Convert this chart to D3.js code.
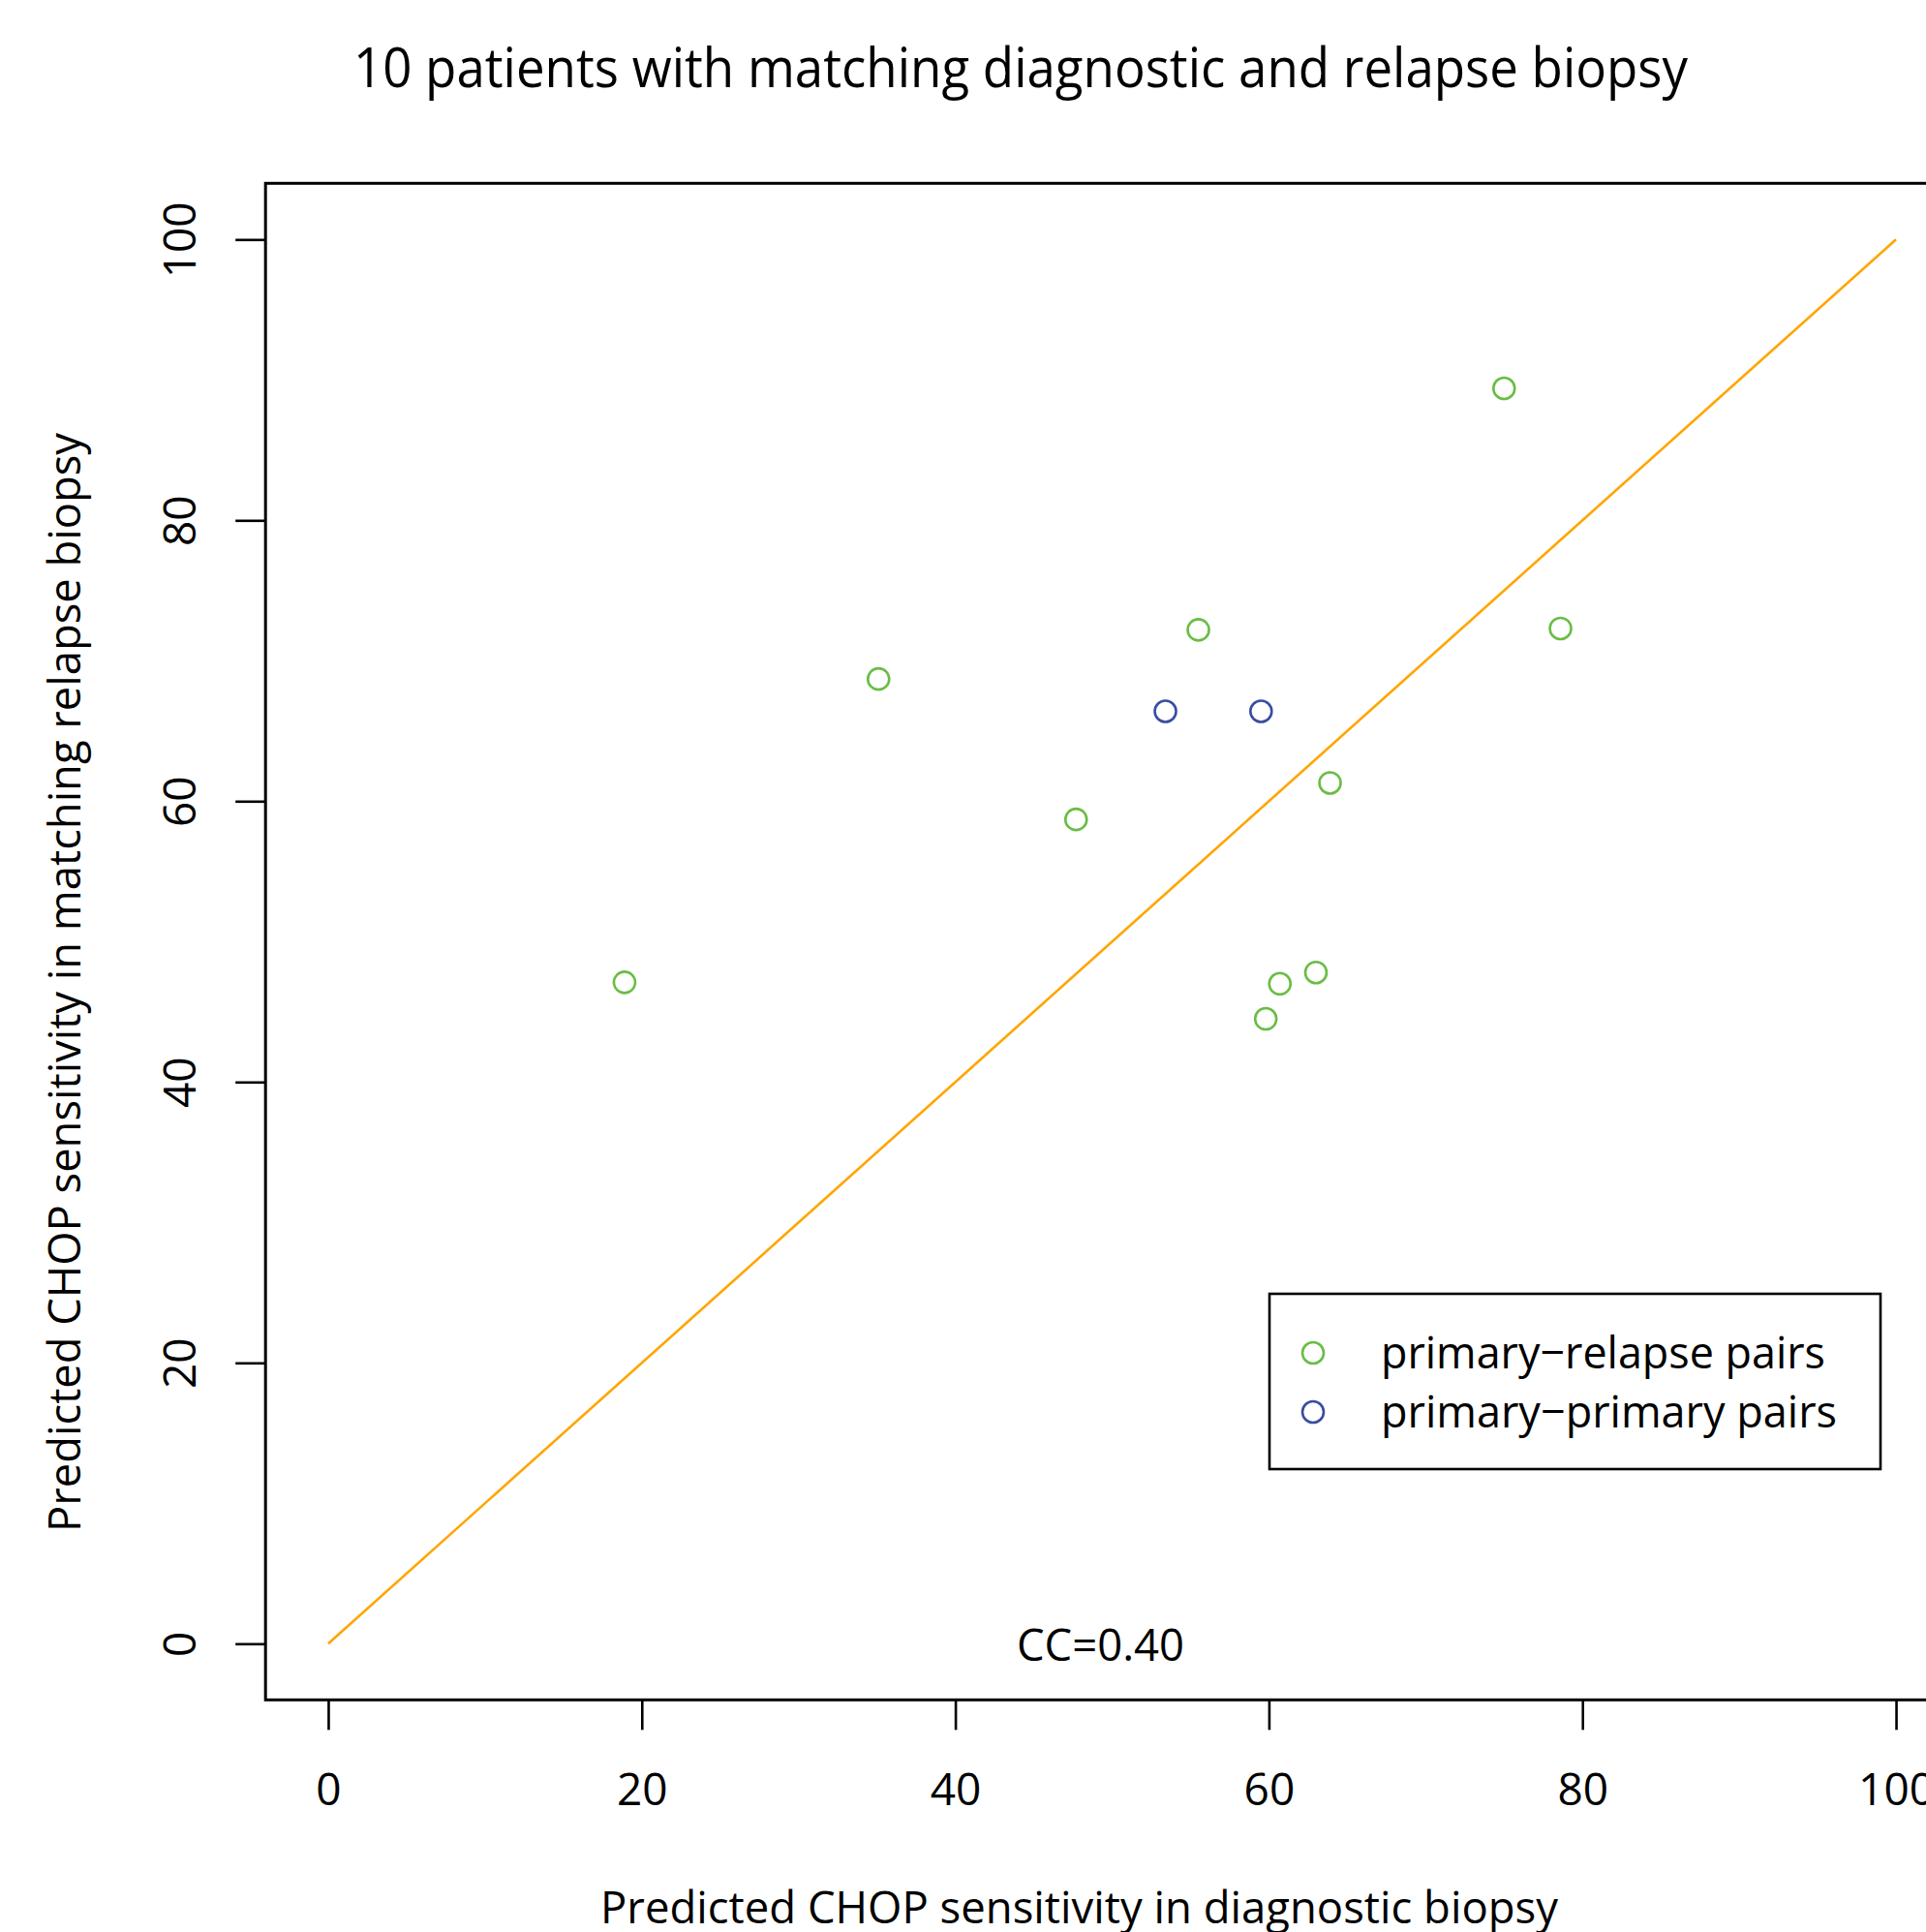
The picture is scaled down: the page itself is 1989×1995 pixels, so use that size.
<!DOCTYPE html>
<html lang="en">
<head>
	<meta charset="UTF-8">
	<title>CHOP sensitivity</title>
	<script src="https://cdn.jsdelivr.net/npm/d3@7/dist/d3.min.js"></script>
	<style>
		body { margin: 0; background: #fff; }
		svg { display: block; }
		text { font-family: "Open Sans", sans-serif; fill: #000; }
	</style>
</head>
<body>
<script>
	// values
	var relapseX = [18.9, 35.1, 47.7, 55.5, 59.8, 60.7, 63.0, 63.9, 75.0, 78.6];
	var relapseY = [47.1, 68.7, 58.7, 72.2, 44.5, 47.0, 47.8, 61.3, 89.4, 72.3];
	var primaryX = [53.4, 59.5];
	var primaryY = [66.4, 66.4];
	var xTicks = [0, 20, 40, 60, 80, 100];
	var yTicks = [0, 20, 40, 60, 80, 100];
	var legendLabels = ["primary\u2212relapse pairs", "primary\u2212primary pairs"];
	var legendColors = ["#6abd45", "#3a4da0"];
	var ccLabel = "CC=0.40";

	var width = 1989, height = 1995;

	var svg = d3.select("body").append("svg")
		.attr("width", width)
		.attr("height", height);

	// R style: data range padded by 4%
	var x = d3.scaleLinear().domain([-4, 104]).range([274.2, 2022.8]);
	var y = d3.scaleLinear().domain([-4, 104]).range([1755.3, 189.3]);

	// identity line
	svg.append("line")
		.attr("x1", x(0)).attr("y1", y(0))
		.attr("x2", x(100)).attr("y2", y(100))
		.attr("stroke", "#ffa500")
		.attr("stroke-width", 2.6);

	var points = relapseX.map(function (d, i) { return {x: d, y: relapseY[i], c: legendColors[0]}; })
		.concat(primaryX.map(function (d, i) { return {x: d, y: primaryY[i], c: legendColors[1]}; }));

	svg.selectAll(".pt")
		.data(points)
		.enter().append("circle")
		.attr("class", "pt")
		.attr("cx", function (d) { return x(d.x); })
		.attr("cy", function (d) { return y(d.y); })
		.attr("r", 11)
		.attr("fill", "none")
		.attr("stroke", function (d) { return d.c; })
		.attr("stroke-width", 2.6);

	// plot frame
	svg.append("rect")
		.attr("x", x(-4)).attr("y", y(104))
		.attr("width", x(104) - x(-4))
		.attr("height", y(-4) - y(104))
		.attr("fill", "none")
		.attr("stroke", "#000")
		.attr("stroke-width", 3);

	var xAxis = svg.append("g")
		.attr("transform", "translate(0," + y(-4) + ")")
		.call(d3.axisBottom(x).tickValues(xTicks).tickSize(31).tickSizeOuter(0));
	xAxis.select(".domain").remove();
	xAxis.selectAll("line").attr("stroke", "#000").attr("stroke-width", 2.6);
	xAxis.selectAll("text")
		.attr("y", 109).attr("dy", null)
		.attr("font-size", 46)
		.attr("font-family", "Open Sans");

	var yAxis = svg.append("g")
		.attr("transform", "translate(" + x(-4) + ",0)")
		.call(d3.axisLeft(y).tickValues(yTicks).tickSize(31).tickSizeOuter(0));
	yAxis.select(".domain").remove();
	yAxis.selectAll("line").attr("stroke", "#000").attr("stroke-width", 2.6);
	yAxis.selectAll("text")
		.attr("x", 0).attr("y", 0).attr("dy", null)
		.attr("text-anchor", "middle")
		.attr("transform", "translate(" + (202 - x(-4)) + ",0) rotate(-90)")
		.attr("font-size", 46)
		.attr("font-family", "Open Sans");

	// title and axis labels
	svg.append("text")
		.attr("x", 365).attr("y", 90)
		.attr("font-size", 56)
		.attr("textLength", 1378)
		.attr("lengthAdjust", "spacingAndGlyphs")
		.text("10 patients with matching diagnostic and relapse biopsy");

	svg.append("text")
		.attr("x", 620).attr("y", 1986)
		.attr("font-size", 46)
		.attr("textLength", 989)
		.attr("lengthAdjust", "spacingAndGlyphs")
		.text("Predicted CHOP sensitivity in diagnostic biopsy");

	svg.append("text")
		.attr("transform", "translate(83,1582) rotate(-90)")
		.attr("font-size", 46)
		.attr("textLength", 1135)
		.attr("lengthAdjust", "spacingAndGlyphs")
		.text("Predicted CHOP sensitivity in matching relapse biopsy");

	svg.append("text")
		.attr("x", 1050).attr("y", 1715)
		.attr("font-size", 46)
		.attr("textLength", 173)
		.attr("lengthAdjust", "spacingAndGlyphs")
		.text(ccLabel);

	// legend
	var legend = svg.append("g");
	legend.append("rect")
		.attr("x", 1311).attr("y", 1336)
		.attr("width", 631).attr("height", 181)
		.attr("fill", "#fff")
		.attr("stroke", "#000")
		.attr("stroke-width", 2.6);

	var legendWidths = [459, 471];
	var item = legend.selectAll(".item")
		.data(legendLabels)
		.enter().append("g")
		.attr("class", "item")
		.attr("transform", function (d, i) { return "translate(0," + (1397 + i * 61) + ")"; });

	item.append("circle")
		.attr("cx", 1356).attr("cy", 0).attr("r", 11)
		.attr("fill", "none")
		.attr("stroke", function (d, i) { return legendColors[i]; })
		.attr("stroke-width", 2.6);

	item.append("text")
		.attr("x", 1426).attr("y", 16)
		.attr("font-size", 46)
		.attr("textLength", function (d, i) { return legendWidths[i]; })
		.attr("lengthAdjust", "spacingAndGlyphs")
		.text(function (d) { return d; });
</script>
</body>
</html>
